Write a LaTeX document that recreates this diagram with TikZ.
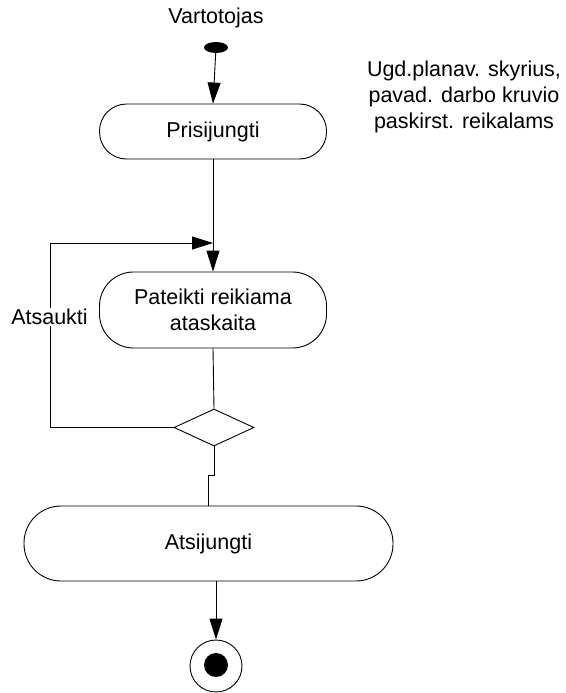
\documentclass[tikz,border=0pt]{standalone}
\usepackage{fontspec}
\setmainfont{Liberation Sans}
\usetikzlibrary{shapes.geometric,arrows.meta,calc}
\begin{document}
\begin{tikzpicture}[x=1pt,y=-1pt,
  every node/.style={font=\fontsize{21.5}{26}\selectfont},
  line/.style={draw=black,line width=0.9pt},
  arr/.style={line,-{Triangle[length=21pt,width=13pt]}},
  activity/.style={draw=black,line width=0.9pt,fill=white,align=center,inner sep=0pt},
  decision/.style={diamond,draw=black,line width=0.9pt,inner sep=0pt,minimum width=80pt,minimum height=37pt,aspect=2.16},
]
\useasboundingbox (0,0) rectangle (565,693);

% labels
\node (vart) at (216,18) {Vartotojas};
\node[align=center] (note) at (464,97) {Ugd.planav. skyrius,\\pavad. darbo kruvio\\paskirst. reikalams};

% start and end states
\node[ellipse,fill=black,inner sep=0pt,minimum width=24pt,minimum height=11pt] (start) at (216,47.5) {};
\node[circle,draw=black,line width=0.9pt,inner sep=0pt,minimum size=52pt] (end) at (216,666) {};
\node[circle,fill=black,inner sep=0pt,minimum size=24pt] (enddot) at (216,665) {};

% activities
\node[activity,minimum width=227pt,minimum height=55pt,rounded corners=27pt] (pris) at (213,131.5) {Prisijungti};
\node[activity,minimum width=227pt,minimum height=76pt,rounded corners=34pt] (pat) at (213,310) {Pateikti reikiama\\ataskaita};
\node[activity,minimum width=369pt,minimum height=75pt,rounded corners=37pt] (atsi) at (208.5,543.5) {Atsijungti};
\node[decision] (dia) at (214,427.5) {};

% loop corner points
\coordinate (loopc) at (50,243);
\coordinate (join) at (213,243);

% flows
\draw[arr] (start) -- (pris.north);
\draw[arr] (pris.south) -- (pat.north);
\draw[line] (pat.south) -- (dia.north);
\draw[arr] (dia.west) -| (loopc) -- (join);
\draw[line] (dia.south) -- ++(0,29) -| (atsi.north);
\draw[arr] (end.north |- atsi.south) -- (end.north);

% guard label on the loop
\node[fill=white,inner sep=1pt] (guard) at (49.5,317) {Atsaukti};
\end{tikzpicture}
\end{document}
